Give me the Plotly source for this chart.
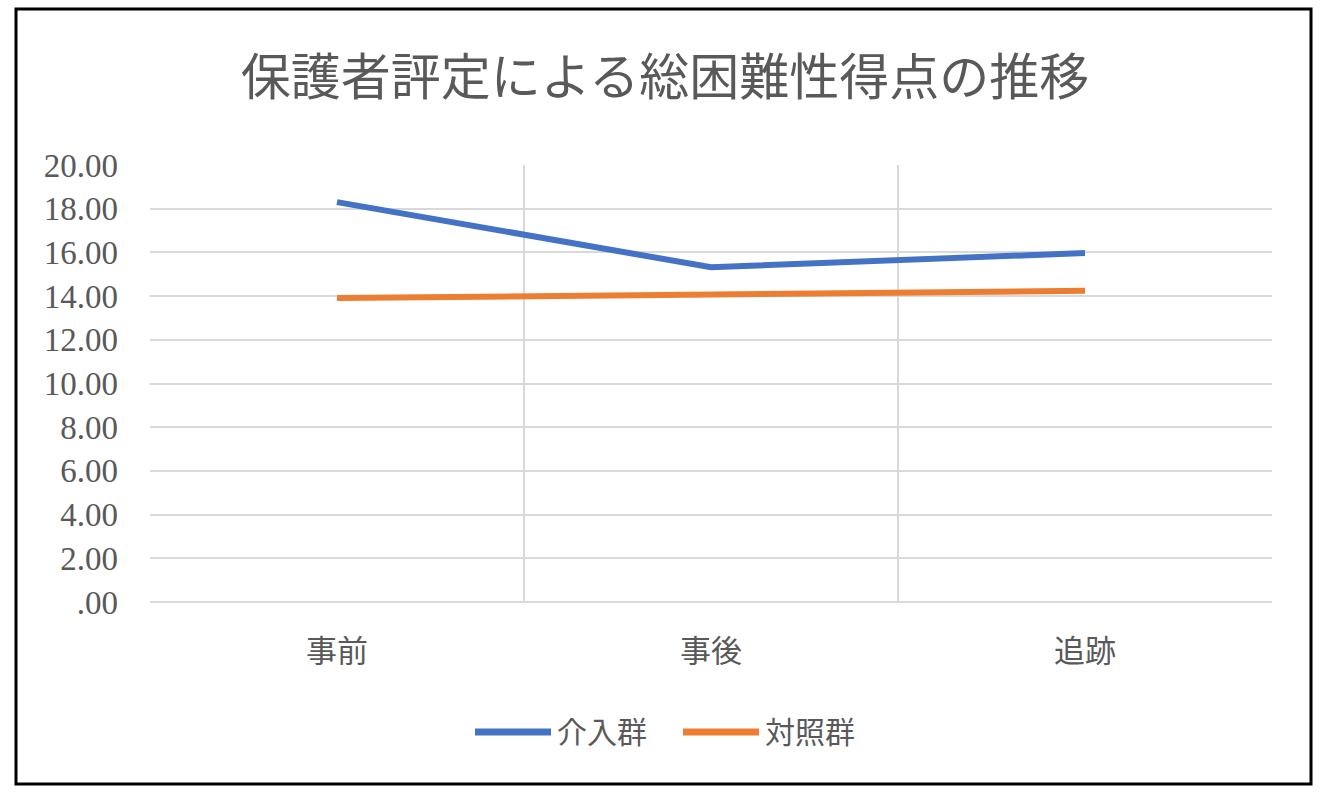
import plotly.graph_objects as go

categories = ["事前", "事後", "追跡"]
intervention = [18.30, 15.32, 15.97]
control = [13.91, 14.10, 14.24]
series_names = ["介入群", "対照群"]
series_colors = ["#4472C4", "#ED7D31"]
y_tick_values = [0, 2, 4, 6, 8, 10, 12, 14, 16, 18, 20]
y_tick_labels = [".00", "2.00", "4.00", "6.00", "8.00", "10.00", "12.00", "14.00", "16.00", "18.00", "20.00"]
title_text = "保護者評定による総困難性得点の推移"

W, H = 1330, 799
L, R, T, B = 150, 58, 165, 197
pw, ph = W - L - R, H - T - B

FONT = "Liberation Serif, Noto Sans CJK JP, serif"
TXT = "#595959"
GRID = "#D9D9D9"

fig = go.Figure()
for name, vals, col in zip(series_names, [intervention, control], series_colors):
    fig.add_trace(go.Scatter(x=categories, y=vals, name=name, mode="lines",
                             line=dict(color=col, width=6), showlegend=False))

def px_x(x):
    return (x - L) / pw

def px_y(y):
    return (H - B - y) / ph

# outer chart border
fig.add_shape(type="rect", xref="paper", yref="paper",
              x0=px_x(16), x1=px_x(1311), y0=px_y(784), y1=px_y(9),
              line=dict(color="black", width=3), layer="above")

# legend (drawn manually to match long legend keys)
legend_y = 732
legend_line_x = [475, 683]
for i, (name, col) in enumerate(zip(series_names, series_colors)):
    x0 = legend_line_x[i]
    fig.add_shape(type="line", xref="paper", yref="paper",
                  x0=px_x(x0), x1=px_x(x0 + 76), y0=px_y(legend_y), y1=px_y(legend_y),
                  line=dict(color=col, width=7))
    fig.add_annotation(text=name, xref="paper", yref="paper",
                       x=px_x(x0 + 80), y=px_y(legend_y), xanchor="left", yanchor="middle",
                       showarrow=False, font=dict(size=30, color=TXT, family=FONT))

fig.update_layout(
    width=W, height=H,
    margin=dict(l=L, r=R, t=T, b=B),
    paper_bgcolor="white", plot_bgcolor="white",
    font=dict(family=FONT, color=TXT, size=28),
    title=dict(text=title_text, x=0.5, xanchor="center", xref="container",
               y=1 - 77 / H, yanchor="middle", yref="container",
               font=dict(size=50, color=TXT, family=FONT)),
    showlegend=False,
    xaxis=dict(type="category", tickson="boundaries", showgrid=True, gridcolor=GRID,
               gridwidth=2, ticks="", showline=False, zeroline=False, range=[-0.5, 2.5],
               ticklabelstandoff=28, tickfont=dict(size=31)),
    yaxis=dict(range=[0, 20], tickvals=y_tick_values, ticktext=y_tick_labels,
               showgrid=True, gridcolor=GRID, gridwidth=2, zeroline=True,
               zerolinecolor=GRID, zerolinewidth=2, ticks="", showline=False,
               ticklabelstandoff=31, tickfont=dict(size=33)),
)

fig.write_html("out.html")
